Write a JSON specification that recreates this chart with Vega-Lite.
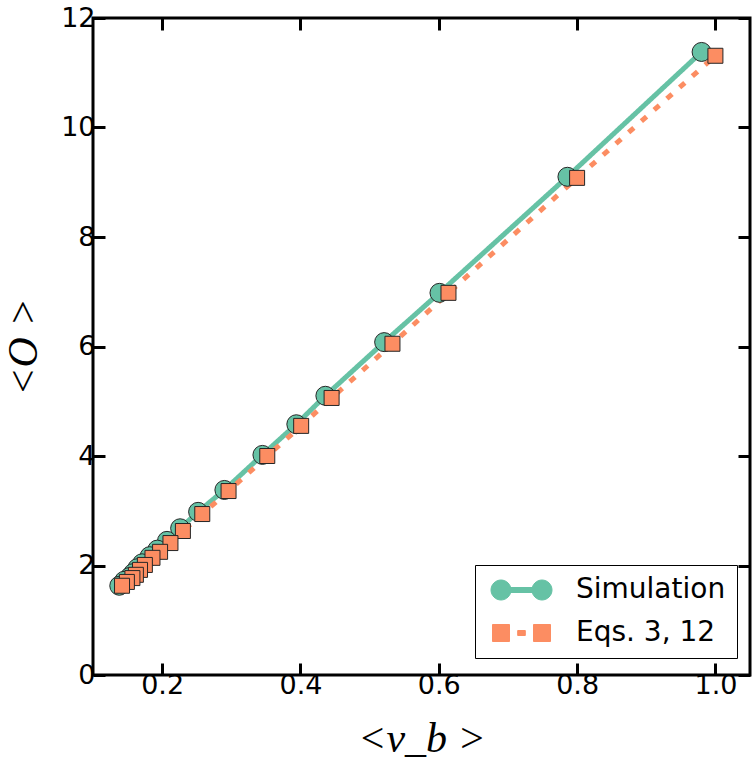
{
  "$schema": "https://vega.github.io/schema/vega-lite/v6.json",
  "width": 657,
  "height": 657,
  "autosize": {"type": "none"},
  "padding": {"left": 93, "top": 18, "right": 6, "bottom": 89},
  "background": "white",
  "config": {
    "font": "DejaVu Sans",
    "view": {"stroke": "black", "strokeWidth": 3},
    "axis": {
      "grid": false,
      "domain": false,
      "ticks": true,
      "tickColor": "black",
      "tickWidth": 3,
      "tickSize": -12,
      "labelFont": "DejaVu Sans",
      "labelFontSize": 27,
      "labelColor": "black",
      "labelFlush": false,
      "labelOverlap": false,
      "titleColor": "black",
      "titleFont": "Liberation Serif",
      "titleFontWeight": "normal",
      "titleFontStyle": "italic",
      "titleFontSize": 42
    }
  },
  "data": {
    "values": [
      {"series": "Simulation", "vb": 0.980, "O": 11.38},
      {"series": "Simulation", "vb": 0.786, "O": 9.10},
      {"series": "Simulation", "vb": 0.601, "O": 6.98},
      {"series": "Simulation", "vb": 0.521, "O": 6.08},
      {"series": "Simulation", "vb": 0.436, "O": 5.10},
      {"series": "Simulation", "vb": 0.394, "O": 4.58},
      {"series": "Simulation", "vb": 0.345, "O": 4.02},
      {"series": "Simulation", "vb": 0.290, "O": 3.38},
      {"series": "Simulation", "vb": 0.252, "O": 2.98},
      {"series": "Simulation", "vb": 0.226, "O": 2.68},
      {"series": "Simulation", "vb": 0.207, "O": 2.45},
      {"series": "Simulation", "vb": 0.193, "O": 2.29},
      {"series": "Simulation", "vb": 0.182, "O": 2.17},
      {"series": "Simulation", "vb": 0.171, "O": 2.04},
      {"series": "Simulation", "vb": 0.164, "O": 1.95},
      {"series": "Simulation", "vb": 0.158, "O": 1.86},
      {"series": "Simulation", "vb": 0.153, "O": 1.79},
      {"series": "Simulation", "vb": 0.145, "O": 1.72},
      {"series": "Simulation", "vb": 0.138, "O": 1.63},
      {"series": "Eqs. 3, 12", "vb": 1.000, "O": 11.31},
      {"series": "Eqs. 3, 12", "vb": 0.800, "O": 9.08},
      {"series": "Eqs. 3, 12", "vb": 0.614, "O": 6.98},
      {"series": "Eqs. 3, 12", "vb": 0.533, "O": 6.05},
      {"series": "Eqs. 3, 12", "vb": 0.445, "O": 5.06},
      {"series": "Eqs. 3, 12", "vb": 0.401, "O": 4.55},
      {"series": "Eqs. 3, 12", "vb": 0.352, "O": 4.00},
      {"series": "Eqs. 3, 12", "vb": 0.296, "O": 3.36},
      {"series": "Eqs. 3, 12", "vb": 0.258, "O": 2.94},
      {"series": "Eqs. 3, 12", "vb": 0.230, "O": 2.63},
      {"series": "Eqs. 3, 12", "vb": 0.212, "O": 2.41},
      {"series": "Eqs. 3, 12", "vb": 0.197, "O": 2.25},
      {"series": "Eqs. 3, 12", "vb": 0.186, "O": 2.14},
      {"series": "Eqs. 3, 12", "vb": 0.175, "O": 2.01},
      {"series": "Eqs. 3, 12", "vb": 0.168, "O": 1.92},
      {"series": "Eqs. 3, 12", "vb": 0.162, "O": 1.83},
      {"series": "Eqs. 3, 12", "vb": 0.157, "O": 1.77},
      {"series": "Eqs. 3, 12", "vb": 0.149, "O": 1.70},
      {"series": "Eqs. 3, 12", "vb": 0.142, "O": 1.63}
    ]
  },
  "layer": [
    {
      "mark": {"type": "line", "strokeWidth": 5, "strokeCap": "butt"},
      "encoding": {
        "x": {
          "field": "vb", "type": "quantitative",
          "scale": {"domain": [0.1, 1.05], "nice": false, "zero": false},
          "axis": {"orient": "bottom", "values": [0.2, 0.4, 0.6, 0.8, 1.0], "format": ".1f", "title": "<v_b >", "labelPadding": 9, "titlePadding": 20}
        },
        "y": {
          "field": "O", "type": "quantitative",
          "scale": {"domain": [0, 12], "nice": false},
          "axis": {"orient": "left", "values": [0, 2, 4, 6, 8, 10, 12], "format": "d", "title": "<O >", "labelPadding": 10, "titlePadding": 15}
        },
        "color": {
          "field": "series", "type": "nominal",
          "scale": {"domain": ["Simulation", "Eqs. 3, 12"], "range": ["#66c2a5", "#fc8d62"]},
          "legend": {
            "orient": "none", "legendX": 382, "legendY": 547, "title": null,
            "padding": 11, "strokeColor": "black", "fillColor": "white",
            "labelFont": "DejaVu Sans", "labelFontSize": 28, "labelColor": "black",
            "symbolSize": 400, "symbolOffset": 21.5, "labelOffset": 40.5, "rowPadding": 15,
            "symbolStrokeWidth": 1, "zindex": 1,
            "encode": {"symbols": {"update": {
              "shape": {"signal": "datum.value === 'Simulation' ? 'M-1.05 0 A1 1 0 1 1 -3.05 0 A1 1 0 1 1 -1.05 0 Z M3.05 0 A1 1 0 1 1 1.05 0 A1 1 0 1 1 3.05 0 Z M-2.05 -0.25 H2.05 V0.25 H-2.05 Z' : 'M-2.9 -0.85 H-1.2 V0.85 H-2.9 Z M1.2 -0.85 H2.9 V0.85 H1.2 Z M-0.38 -0.25 H0.38 V0.25 H-0.38 Z'"},
              "fill": {"signal": "datum.value === 'Simulation' ? '#66c2a5' : '#fc8d62'"},
              "strokeDash": {"value": []},
              "strokeWidth": {"value": 1},
              "size": {"value": 400},
              "opacity": {"value": 1}
            }}}
          }
        },
        "strokeDash": {
          "field": "series", "type": "nominal", "sort": "descending",
          "scale": {"range": [[1, 0], [7, 10]]},
          "legend": null
        }
      }
    },
    {
      "mark": {"type": "point", "filled": true, "opacity": 1, "stroke": "#262626", "strokeWidth": 1},
      "encoding": {
        "x": {
          "field": "vb", "type": "quantitative",
          "axis": {"orient": "top", "values": [0.2, 0.4, 0.6, 0.8, 1.0], "labels": false, "title": null}
        },
        "y": {
          "field": "O", "type": "quantitative",
          "axis": {"orient": "right", "values": [0, 2, 4, 6, 8, 10, 12], "labels": false, "title": null}
        },
        "size": {"condition": {"test": "datum.series === 'Simulation'", "value": 361}, "value": 225},
        "fill": {
          "field": "series", "type": "nominal", "sort": "descending",
          "scale": {"range": ["#66c2a5", "#fc8d62"]},
          "legend": null
        },
        "shape": {
          "field": "series", "type": "nominal", "sort": "descending",
          "scale": {"range": ["circle", "square"]},
          "legend": null
        }
      }
    }
  ],
  "resolve": {"axis": {"x": "independent", "y": "independent"}}
}
